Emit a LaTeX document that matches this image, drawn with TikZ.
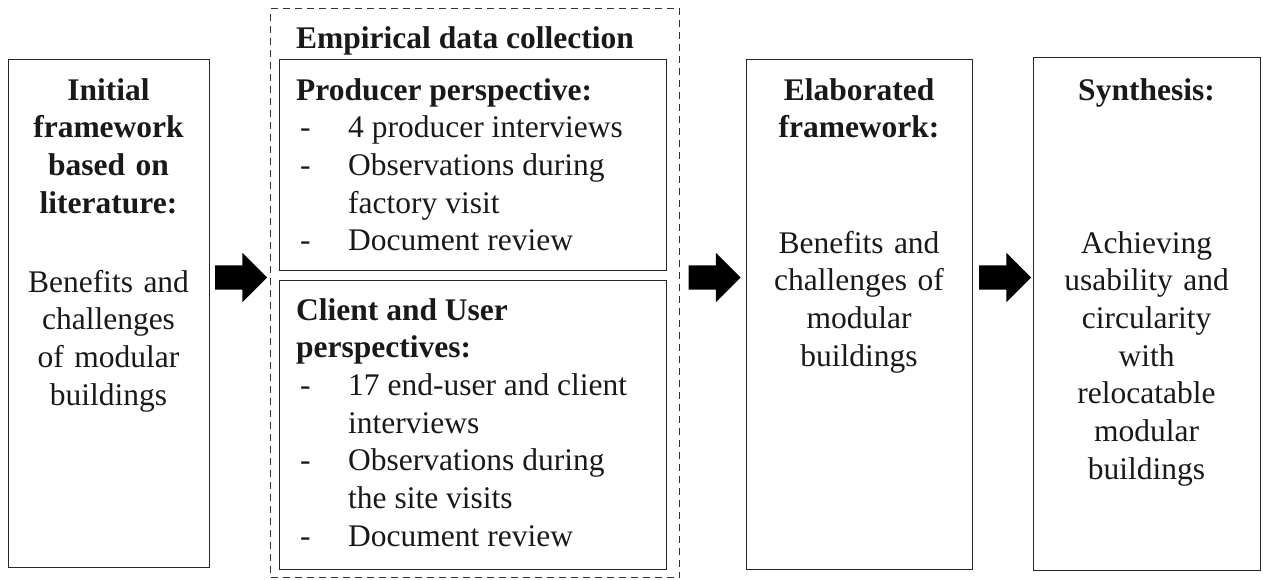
\documentclass[tikz,border=0pt]{standalone}
\usepackage{fontspec}
\setmainfont{Liberation Serif}
\usetikzlibrary{shapes.arrows}
\newcommand{\fsz}{\fontsize{31.5}{37.7}\selectfont}
\begin{document}
\begin{tikzpicture}[x=1pt,y=-1pt,
  box/.style={draw=black!85, line width=1.3pt, inner sep=0pt, anchor=north west},
  dashbox/.style={draw=black!80, line width=1.2pt, dash pattern=on 7pt off 5pt, inner sep=0pt, anchor=north west},
  txt/.style={inner sep=0pt, anchor=base, align=center, text width=#1, font=\fsz, text=black!90},
  ltxt/.style={inner sep=0pt, anchor=base west, font=\fsz, text=black!90},
  blockarrow/.style={single arrow, fill=black, draw=none, inner sep=0pt, text height=12pt, text depth=12pt, text width=0pt, minimum height=52pt, minimum width=49pt, single arrow head extend=12.5pt, single arrow tip angle=90}]
\useasboundingbox (0,0) rectangle (1263,579);
% boxes
\node[box, minimum width=201pt, minimum height=508pt] (b1) at (8,59) {};
\node[dashbox, minimum width=409pt, minimum height=569pt] (dbox) at (270,8) {};
\node[box, minimum width=387pt, minimum height=211pt] (prod) at (279,59) {};
\node[box, minimum width=387pt, minimum height=289pt] (client) at (279,280) {};
\node[box, minimum width=226pt, minimum height=510pt] (b3) at (746,59) {};
\node[box, minimum width=227pt, minimum height=513pt] (b4) at (1033,57) {};
% box 1 text
\node[txt=195pt] (b1h) at (108.5,100) {\bfseries Initial\\framework\\based on\\literature:};
\node[txt=195pt] (b1b) at (108.5,292) {Benefits and\\challenges\\of modular\\buildings};
% empirical data collection
\node[ltxt] (dtitle) at (296,48) {\bfseries Empirical data collection};
\node[ltxt] (prodtxt) at (296,100) {\begin{tabular}[t]{@{}p{52pt}@{}l@{}}
\multicolumn{2}{@{}l@{}}{\bfseries Producer perspective:}\\
\hspace{4pt}- & 4 producer interviews\\
\hspace{4pt}- & Observations during\\
 & factory visit\\
\hspace{4pt}- & Document review
\end{tabular}};
\node[ltxt] (clienttxt) at (296,320) {\begin{tabular}[t]{@{}p{52pt}@{}l@{}}
\multicolumn{2}{@{}l@{}}{\bfseries Client and User}\\
\multicolumn{2}{@{}l@{}}{\bfseries perspectives:}\\
\hspace{4pt}- & 17 end-user and client\\
 & interviews\\
\hspace{4pt}- & Observations during\\
 & the site visits\\
\hspace{4pt}- & Document review
\end{tabular}};
% box 3 text
\node[txt=220pt] (b3h) at (859,100) {\bfseries Elaborated\\framework:};
\node[txt=220pt] (b3b) at (859,253) {Benefits and\\challenges of\\modular\\buildings};
% box 4 text
\node[txt=220pt] (b4h) at (1146.5,100) {\bfseries Synthesis:};
\node[txt=220pt] (b4b) at (1146.5,253) {Achieving\\usability and\\circularity\\with\\relocatable\\modular\\buildings};
% block arrows between the stages
\node[blockarrow] (a1) at (235,277.5) {};
\node[blockarrow] (a2) at (708.5,277.5) {};
\node[blockarrow] (a3) at (999,277.5) {};
\end{tikzpicture}
\end{document}
